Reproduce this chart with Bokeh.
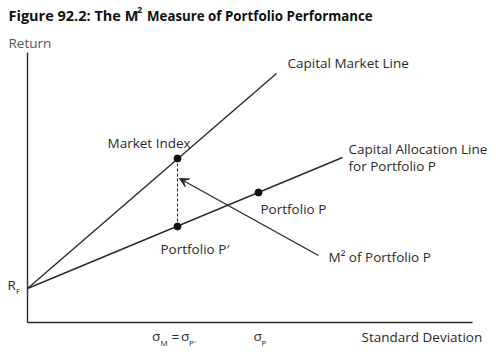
from bokeh.plotting import figure
from bokeh.models import Range1d, ColumnDataSource, Arrow, VeeHead
from bokeh.core.properties import value
from bokeh.embed import file_html
from bokeh.resources import INLINE

# ---- data (standard deviation on x, return on y, arbitrary units) ----
rf = 3.4
sigma_m = 15.0
ret_market = 16.4
sigma_p = 23.1
ret_p = 13.0
ret_p_prime = 9.6
cml_end = (24.9, 24.9)
cal_end = (31.5, 16.5)
m2_arrow_tail = (29.1, 6.7)
m2_arrow_head = (15.2, 14.4)
axis_x_max = 44.5
axis_y_max = 27.0

FONT = "Open Sans"
LINE = "#2b2b2b"
TXT = "#2a2a2a"
FS = "13.5px"
SUB = "8px"

p = figure(width=497, height=356, output_backend="svg", toolbar_location=None,
           x_range=Range1d(-2.7, 47.0), y_range=Range1d(-3.4, 32.2),
           min_border=0)
p.axis.visible = False
p.grid.visible = False
p.outline_line_color = None
p.background_fill_color = "white"

def px(x):
    return (x - 27) / 10.0

def py(y):
    return (322 - y) / 10.0

# axes
p.segment(x0=[0, 0], y0=[0, 0], x1=[0, axis_x_max], y1=[axis_y_max, 0],
          line_color=LINE, line_width=1.4)

# capital market line and capital allocation line
p.segment(x0=[0, 0], y0=[rf, rf], x1=[cml_end[0], cal_end[0]], y1=[cml_end[1], cal_end[1]],
          line_color=LINE, line_width=1.4)

# dashed vertical
p.segment(x0=[sigma_m], y0=[ret_market], x1=[sigma_m], y1=[ret_p_prime],
          line_color=LINE, line_width=1.1, line_dash="3 2")

# M2 arrow
p.add_layout(Arrow(end=VeeHead(size=9, line_color=LINE, fill_color=LINE, line_width=1),
                   x_start=m2_arrow_tail[0], y_start=m2_arrow_tail[1],
                   x_end=m2_arrow_head[0], y_end=m2_arrow_head[1],
                   line_color=LINE, line_width=1.4))

# points
p.scatter(x=[sigma_m, sigma_p, sigma_m], y=[ret_market, ret_p, ret_p_prime],
          size=7, color="#111111")

# labels
lab = ColumnDataSource(dict(
    x=[px(287), px(107), px(348), px(348), px(260), px(160), px(328), px(361)],
    y=[py(62), py(142), py(148), py(165), py(208), py(248), py(256), py(336)],
    t=["Capital Market Line", "Market Index", "Capital Allocation Line", "for Portfolio P",
       "Portfolio P", "Portfolio P\u2032", "M\u00b2 of Portfolio P", "Standard Deviation"]))
p.text(x="x", y="y", text="t", source=lab, text_font=value(FONT), text_font_size=FS,
       text_color=TXT, text_baseline="middle", text_align="left")

# Return label
p.text(x=[px(8)], y=[py(42)], text=["Return"], text_font=value(FONT), text_font_size=FS,
       text_color="#555555", text_baseline="middle")

# R_F
p.text(x=[px(7)], y=[py(284)], text=["R"], text_font=value(FONT), text_font_size=FS,
       text_color=TXT, text_baseline="middle")
p.text(x=[px(15.5)], y=[py(290)], text=["F"], text_font=value(FONT), text_font_size=SUB,
       text_color=TXT, text_baseline="middle")

# sigma labels
sig = ColumnDataSource(dict(x=[px(151.5), px(171), px(180.5), px(253)],
                            y=[py(335.5), py(336), py(335.5), py(335.5)],
                            t=["\u03c3", "=", "\u03c3", "\u03c3"]))
p.text(x="x", y="y", text="t", source=sig, text_font=value(FONT), text_font_size=FS,
       text_color=TXT, text_baseline="middle")
sub = ColumnDataSource(dict(x=[px(160), px(188.5), px(261)],
                            y=[py(341.5), py(342), py(341.5)],
                            t=["M", "P\u2032", "P"]))
p.text(x="x", y="y", text="t", source=sub, text_font=value(FONT), text_font_size=SUB,
       text_color=TXT, text_baseline="middle")

# title
p.text(x=[px(8)], y=[py(15)], text=["Figure 92.2: The M"], text_font=value(FONT),
       text_font_size="14.5px", text_font_style="bold", text_color="#111111", text_baseline="middle")
p.text(x=[px(136.5)], y=[py(9)], text=["2"], text_font=value(FONT),
       text_font_size="9px", text_font_style="bold", text_color="#111111", text_baseline="middle")
p.text(x=[px(146.5)], y=[py(15)], text=["Measure of Portfolio Performance"], text_font=value(FONT),
       text_font_size="13.3px", text_font_style="bold", text_color="#111111", text_baseline="middle")

open("out.html", "w").write(file_html(p, INLINE))
